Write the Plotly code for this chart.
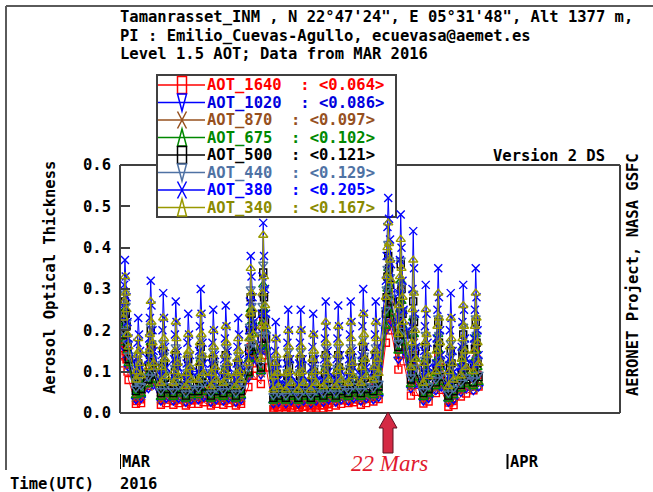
import datetime as dt
import plotly.graph_objects as go

# ---------------- data ----------------
days = list(range(1, 30))                          # March 2016, days with data
hours = [6.5, 8.0, 9.5, 11.0, 12.5, 14.5, 16.5]    # observation hours (UTC) per day

aot_1640 = [
    .12, .14, .17, .15, .13, .10, .08,
    .022, .029, .037, .05, .042, .033, .024,
    .065, .09, .115, .16, .13, .10, .075,
    .02, .031, .044, .064, .051, .035, .024,
    .02, .029, .042, .059, .048, .033, .024,
    .018, .026, .037, .053, .042, .031, .022,
    .022, .033, .046, .066, .053, .037, .026,
    .018, .026, .037, .055, .044, .031, .022,
    .02, .029, .04, .057, .046, .033, .024,
    .018, .026, .035, .051, .042, .029, .022,
    .063, .09, .12, .16, .14, .12, .09,
    .07, .11, .155, .22, .18, .14, .11,
    .008, .013, .018, .026, .022, .014, .01,
    .008, .014, .02, .03, .024, .016, .011,
    .006, .013, .02, .03, .024, .015, .009,
    .008, .013, .019, .029, .023, .016, .011,
    .011, .018, .025, .038, .029, .021, .014,
    .018, .029, .04, .057, .046, .031, .022,
    .024, .029, .042, .059, .048, .033, .026,
    .02, .031, .046, .066, .053, .035, .024,
    .028, .039, .053, .076, .062, .045, .034,
    .17, .21, .25, .29, .26, .23, .20,
    .105, .14, .18, .24, .20, .16, .125,
    .042, .067, .096, .14, .11, .077, .051,
    .023, .038, .053, .078, .06, .043, .028,
    .048, .072, .10, .14, .11, .08, .056,
    .015, .025, .038, .055, .044, .029, .019,
    .04, .058, .079, .11, .09, .065, .047,
    .055, .083, .115, .16, .13, .092, .064,
]

aot_1020 = [
    .16, .19, .23, .20, .17, .13, .11,
    .032, .042, .054, .074, .061, .048, .035,
    .059, .081, .10, .14, .12, .09, .068,
    .029, .045, .064, .093, .074, .051, .035,
    .029, .042, .061, .086, .07, .048, .035,
    .026, .038, .054, .077, .061, .045, .032,
    .032, .048, .067, .096, .077, .054, .038,
    .026, .038, .054, .08, .064, .045, .032,
    .029, .042, .058, .083, .067, .048, .035,
    .026, .038, .051, .074, .061, .042, .032,
    .085, .12, .16, .23, .20, .17, .13,
    .092, .15, .20, .28, .23, .18, .15,
    .022, .035, .048, .07, .058, .038, .026,
    .022, .038, .054, .08, .064, .042, .029,
    .022, .038, .054, .08, .064, .042, .029,
    .022, .035, .051, .077, .061, .042, .029,
    .026, .042, .058, .086, .067, .048, .032,
    .026, .042, .058, .083, .067, .045, .032,
    .029, .042, .061, .086, .07, .048, .035,
    .029, .045, .067, .096, .077, .051, .035,
    .032, .045, .061, .086, .07, .051, .038,
    .20, .23, .27, .32, .29, .26, .22,
    .13, .18, .23, .29, .24, .20, .15,
    .059, .095, .135, .20, .16, .11, .072,
    .029, .048, .067, .099, .077, .054, .035,
    .054, .081, .11, .16, .13, .09, .063,
    .026, .042, .064, .093, .074, .048, .032,
    .05, .072, .099, .14, .11, .081, .059,
    .054, .081, .11, .16, .13, .09, .063,
]

aot_870 = [
    .17, .20, .24, .21, .18, .14, .115,
    .037, .048, .063, .085, .07, .056, .041,
    .064, .088, .11, .16, .13, .098, .074,
    .033, .052, .074, .11, .085, .059, .041,
    .033, .048, .07, .10, .081, .056, .041,
    .03, .044, .063, .089, .07, .052, .037,
    .037, .056, .078, .11, .089, .063, .044,
    .03, .044, .063, .093, .074, .052, .037,
    .033, .048, .067, .096, .078, .056, .041,
    .03, .044, .059, .085, .07, .048, .037,
    .09, .13, .17, .24, .21, .18, .14,
    .096, .15, .21, .29, .24, .19, .15,
    .026, .041, .056, .081, .067, .044, .03,
    .026, .044, .063, .093, .074, .048, .033,
    .026, .044, .063, .093, .074, .048, .033,
    .026, .041, .059, .089, .07, .048, .033,
    .03, .048, .067, .10, .078, .056, .037,
    .03, .048, .067, .096, .078, .052, .037,
    .033, .048, .07, .10, .081, .056, .041,
    .033, .052, .078, .11, .089, .059, .041,
    .037, .052, .07, .10, .081, .059, .044,
    .20, .24, .29, .33, .30, .27, .23,
    .14, .19, .24, .31, .26, .20, .16,
    .064, .10, .15, .22, .17, .12, .078,
    .033, .056, .078, .115, .089, .063, .041,
    .059, .088, .12, .17, .14, .098, .069,
    .03, .048, .074, .11, .085, .056, .037,
    .054, .078, .11, .15, .12, .088, .064,
    .059, .088, .12, .17, .14, .098, .069,
]

aot_675 = [
    .17, .21, .25, .22, .19, .15, .12,
    .042, .055, .071, .097, .08, .063, .046,
    .069, .095, .12, .17, .14, .11, .08,
    .038, .059, .084, .12, .097, .067, .046,
    .038, .055, .08, .11, .092, .063, .046,
    .034, .05, .071, .10, .08, .059, .042,
    .042, .063, .088, .13, .10, .071, .05,
    .034, .05, .071, .105, .084, .059, .042,
    .038, .055, .076, .11, .088, .063, .046,
    .034, .05, .067, .097, .08, .055, .042,
    .094, .13, .18, .25, .22, .19, .15,
    .10, .16, .22, .31, .25, .20, .16,
    .029, .046, .063, .092, .076, .05, .034,
    .029, .05, .071, .105, .084, .055, .038,
    .029, .05, .071, .105, .084, .055, .038,
    .029, .046, .067, .10, .08, .055, .038,
    .034, .055, .076, .11, .088, .063, .042,
    .034, .055, .076, .11, .088, .059, .042,
    .038, .055, .08, .11, .092, .063, .046,
    .038, .059, .088, .13, .10, .067, .046,
    .042, .059, .08, .11, .092, .067, .05,
    .21, .25, .30, .35, .31, .28, .24,
    .15, .19, .25, .32, .27, .21, .17,
    .069, .11, .16, .23, .19, .13, .085,
    .038, .063, .088, .13, .10, .071, .046,
    .064, .095, .13, .19, .15, .11, .074,
    .034, .055, .084, .12, .097, .063, .042,
    .058, .085, .12, .16, .13, .095, .069,
    .064, .095, .13, .19, .15, .11, .074,
]

aot_500 = [
    .19, .23, .27, .24, .21, .16, .13,
    .053, .069, .09, .12, .10, .08, .058,
    .081, .11, .14, .20, .16, .12, .093,
    .048, .074, .11, .15, .12, .085, .058,
    .048, .069, .10, .14, .12, .08, .058,
    .042, .064, .09, .13, .10, .074, .053,
    .053, .08, .11, .16, .13, .09, .064,
    .042, .064, .09, .13, .11, .074, .053,
    .048, .069, .095, .14, .11, .08, .058,
    .042, .064, .085, .12, .10, .069, .053,
    .10, .15, .20, .28, .24, .21, .16,
    .11, .18, .24, .34, .28, .22, .18,
    .037, .058, .08, .12, .095, .064, .042,
    .037, .064, .09, .13, .11, .069, .048,
    .037, .064, .09, .13, .11, .069, .048,
    .037, .058, .085, .13, .10, .069, .048,
    .042, .069, .095, .14, .11, .08, .053,
    .042, .069, .095, .14, .11, .074, .053,
    .048, .069, .10, .14, .12, .08, .058,
    .048, .074, .11, .16, .13, .085, .058,
    .053, .074, .10, .14, .12, .085, .064,
    .24, .28, .33, .38, .35, .31, .27,
    .16, .21, .27, .36, .30, .24, .19,
    .081, .13, .19, .27, .22, .15, .099,
    .048, .08, .11, .16, .13, .09, .058,
    .074, .11, .155, .22, .17, .12, .087,
    .042, .069, .11, .15, .12, .08, .053,
    .068, .099, .14, .19, .155, .11, .081,
    .074, .11, .155, .22, .17, .12, .087,
]

aot_440 = [
    .20, .24, .29, .26, .22, .17, .14,
    .06, .078, .10, .14, .11, .09, .066,
    .087, .12, .15, .21, .17, .13, .10,
    .054, .084, .12, .17, .14, .096, .066,
    .054, .078, .11, .16, .13, .09, .066,
    .048, .072, .10, .14, .11, .084, .06,
    .06, .09, .13, .18, .14, .10, .072,
    .048, .072, .10, .15, .12, .084, .06,
    .054, .078, .11, .16, .13, .09, .066,
    .048, .072, .096, .14, .11, .078, .06,
    .11, .16, .21, .30, .26, .22, .17,
    .12, .19, .26, .36, .30, .23, .19,
    .042, .066, .09, .13, .11, .072, .048,
    .042, .072, .10, .15, .12, .078, .054,
    .042, .072, .10, .15, .12, .078, .054,
    .042, .066, .096, .14, .11, .078, .054,
    .048, .078, .11, .16, .13, .09, .06,
    .048, .078, .11, .16, .13, .084, .06,
    .054, .078, .11, .16, .13, .09, .066,
    .054, .084, .13, .18, .14, .096, .066,
    .06, .084, .11, .16, .13, .096, .072,
    .25, .30, .35, .41, .37, .33, .28,
    .17, .23, .29, .37, .31, .25, .20,
    .087, .14, .20, .29, .23, .16, .11,
    .054, .09, .13, .19, .14, .10, .066,
    .08, .12, .17, .23, .19, .13, .094,
    .048, .078, .12, .17, .14, .09, .06,
    .074, .11, .15, .21, .17, .12, .087,
    .08, .12, .17, .23, .19, .13, .094,
]

aot_380 = [
    .26, .31, .37, .33, .28, .22, .18,
    .10, .13, .17, .23, .19, .15, .11,
    .13, .18, .23, .32, .26, .20, .15,
    .09, .14, .20, .29, .23, .16, .11,
    .09, .13, .19, .27, .22, .15, .11,
    .08, .12, .17, .24, .19, .14, .10,
    .10, .15, .21, .30, .24, .17, .12,
    .08, .12, .17, .25, .20, .14, .10,
    .09, .13, .18, .26, .21, .15, .11,
    .08, .12, .16, .23, .19, .13, .10,
    .14, .20, .27, .38, .33, .28, .22,
    .15, .24, .33, .46, .38, .30, .24,
    .07, .11, .15, .22, .18, .12, .08,
    .07, .12, .17, .25, .20, .13, .09,
    .07, .12, .17, .25, .20, .13, .09,
    .07, .11, .16, .24, .19, .13, .09,
    .08, .13, .18, .27, .21, .15, .10,
    .08, .13, .18, .26, .21, .14, .10,
    .09, .13, .19, .27, .22, .15, .11,
    .09, .14, .21, .30, .24, .16, .11,
    .10, .14, .19, .27, .22, .16, .12,
    .32, .38, .45, .52, .47, .42, .36,
    .22, .29, .37, .48, .40, .32, .25,
    .13, .21, .30, .44, .35, .24, .16,
    .09, .15, .21, .31, .24, .17, .11,
    .12, .18, .25, .35, .28, .20, .14,
    .08, .13, .20, .29, .23, .15, .10,
    .11, .16, .22, .31, .25, .18, .13,
    .12, .18, .25, .35, .28, .20, .14,
]

aot_340 = [
    .23, .27, .33, .29, .25, .19, .16,
    .08, .10, .14, .18, .15, .12, .09,
    .11, .15, .19, .27, .22, .17, .12,
    .072, .11, .16, .23, .18, .13, .088,
    .072, .10, .15, .22, .18, .12, .088,
    .064, .096, .14, .19, .15, .11, .08,
    .08, .12, .17, .24, .19, .14, .096,
    .064, .096, .14, .20, .16, .11, .08,
    .072, .10, .14, .21, .17, .12, .088,
    .064, .096, .13, .18, .15, .10, .08,
    .12, .18, .24, .35, .29, .25, .19,
    .13, .21, .29, .43, .33, .26, .21,
    .056, .088, .12, .18, .14, .096, .064,
    .056, .096, .14, .20, .16, .10, .072,
    .056, .096, .14, .20, .16, .10, .072,
    .056, .088, .13, .19, .15, .10, .072,
    .064, .10, .14, .22, .17, .12, .08,
    .064, .10, .14, .21, .17, .11, .08,
    .072, .10, .15, .22, .18, .12, .088,
    .072, .11, .17, .24, .19, .13, .088,
    .08, .11, .15, .22, .18, .13, .096,
    .28, .33, .40, .46, .41, .37, .32,
    .19, .26, .33, .42, .35, .28, .22,
    .11, .17, .25, .37, .29, .20, .13,
    .072, .12, .17, .25, .19, .14, .088,
    .10, .15, .21, .29, .23, .17, .12,
    .064, .10, .16, .23, .18, .12, .08,
    .09, .13, .18, .26, .21, .15, .11,
    .10, .15, .21, .29, .23, .17, .12,
]

series_names = ["AOT_1640", "AOT_1020", "AOT_870", "AOT_675",
                "AOT_500", "AOT_440", "AOT_380", "AOT_340"]
series_means = ["0.064", "0.086", "0.097", "0.102",
                "0.121", "0.129", "0.205", "0.167"]
series_values = [aot_1640, aot_1020, aot_870, aot_675,
                 aot_500, aot_440, aot_380, aot_340]

month_ticks = ["2016-03-01", "2016-04-01"]
month_labels = ["MAR", "APR"]

# ---------------- style ----------------
colors = ["#ff0000", "#0000ff", "#96501e", "#008800",
          "#000000", "#4f72a4", "#0000ff", "#999900"]
text_colors = ["#ff0000", "#0000dd", "#96501e", "#008800",
               "#000000", "#4f72a4", "#0000ff", "#8a8a00"]
symbols = ["square-open", "triangle-down-open", "x-thin-open", "triangle-up-open",
           "square-open", "triangle-down-open", "x-thin-open", "triangle-up-open"]
glyphs = ["square", "tri-down", "x", "tri-up", "square", "tri-down", "x", "tri-up"]
msizes = [7, 8, 8, 8, 7, 8, 8, 8]

MONO = "DejaVu Sans Mono"
FS = 15.5
W, H = 653, 492
L, R, T, B = 120, 620, 165, 413  # plot area in pixels


def px2x(px):
    return (px - L) / (R - L)


def px2y(py):
    return (B - py) / (B - T)


times = [dt.datetime(2016, 3, d) + dt.timedelta(hours=h) for d in days for h in hours]

fig = go.Figure()
for name, vals, c, s, ms in zip(series_names, series_values, colors, symbols, msizes):
    fig.add_trace(go.Scatter(
        x=times, y=vals, mode="lines+markers", name=name,
        line=dict(color=c, width=1),
        marker=dict(symbol=s, size=ms, color=c, line=dict(width=1.4, color=c)),
        showlegend=False,
    ))

shapes = []
annotations = []
FRAME = "#404040"

# plot frame (top edge interrupted by legend box)
shapes += [
    dict(type="line", xref="paper", yref="paper", x0=0, x1=0, y0=0, y1=1,
         line=dict(color=FRAME, width=2), layer="above"),
    dict(type="line", xref="paper", yref="paper", x0=0, x1=1, y0=0, y1=0,
         line=dict(color=FRAME, width=2), layer="above"),
    dict(type="line", xref="paper", yref="paper", x0=1, x1=1, y0=0, y1=1,
         line=dict(color=FRAME, width=2), layer="above"),
    dict(type="line", xref="paper", yref="paper", x0=0, x1=px2x(157), y0=1, y1=1,
         line=dict(color=FRAME, width=2), layer="above"),
    dict(type="line", xref="paper", yref="paper", x0=px2x(396), x1=1, y0=1, y1=1,
         line=dict(color=FRAME, width=2), layer="above"),
]
# outer picture frame
shapes += [
    dict(type="line", xref="paper", yref="paper", x0=px2x(6), x1=px2x(W), y0=px2y(6), y1=px2y(6),
         line=dict(color="#5a5a5a", width=2)),
    dict(type="line", xref="paper", yref="paper", x0=px2x(6), x1=px2x(6), y0=px2y(6), y1=px2y(470),
         line=dict(color="#5a5a5a", width=2)),
]

# legend box
shapes.append(dict(type="rect", xref="paper", yref="paper",
                   x0=px2x(157), x1=px2x(396), y0=px2y(75), y1=px2y(217),
                   line=dict(color=FRAME, width=2), fillcolor="white", layer="below"))
for i, (name, mean, c, tc, g) in enumerate(zip(series_names, series_means, colors, text_colors, glyphs)):
    cy = 85 + 17.5 * i
    shapes.append(dict(type="line", xref="paper", yref="paper",
                       x0=px2x(158), x1=px2x(205), y0=px2y(cy), y1=px2y(cy),
                       line=dict(color=c, width=1.5)))
    xl, xc, xr = px2x(177.5), px2x(182), px2x(186.5)
    yt, yb = px2y(cy - 8.5), px2y(cy + 8.5)
    if g == "square":
        shapes.append(dict(type="rect", xref="paper", yref="paper", x0=xl, x1=xr, y0=yb, y1=yt,
                           line=dict(color=c, width=1.5)))
    else:
        if g == "tri-down":
            p = f"M{xl},{yt} L{xr},{yt} L{xc},{yb} Z"
        elif g == "tri-up":
            p = f"M{xl},{yb} L{xr},{yb} L{xc},{yt} Z"
        else:
            p = f"M{xl},{yt} L{xr},{yb} M{xr},{yt} L{xl},{yb}"
        shapes.append(dict(type="path", xref="paper", yref="paper", path=p,
                           line=dict(color=c, width=1.5)))
    label = name + "\u00a0\u00a0:\u00a0&lt;" + mean + "&gt;"
    annotations.append(dict(xref="paper", yref="paper", x=px2x(205), y=px2y(cy),
                            xanchor="left", yanchor="middle", text=label, showarrow=False,
                            font=dict(family=MONO, size=FS, color=tc, weight="bold")))

# header lines
header = ["Tamanrasset_INM , N 22°47'24\", E 05°31'48\", Alt 1377 m,",
          "PI : Emilio_Cuevas-Agullo, ecuevasa@aemet.es",
          "Level 1.5 AOT; Data from MAR 2016"]
for j, line in enumerate(header):
    annotations.append(dict(xref="paper", yref="paper", x=px2x(118), y=px2y(17 + 18.5 * j),
                            xanchor="left", yanchor="middle", text=line, showarrow=False,
                            font=dict(family=MONO, size=FS, color="black", weight="bold")))

txtfont = dict(family=MONO, size=FS, color="black", weight="bold")
annotations += [
    dict(xref="paper", yref="paper", x=px2x(607), y=px2y(156), xanchor="right", yanchor="middle",
         text="Version 2 DS", showarrow=False, font=txtfont),
    dict(xref="paper", yref="paper", x=px2x(50), y=px2y(278), xanchor="center", yanchor="middle",
         text="Aerosol Optical Thickness", textangle=-90, showarrow=False, font=txtfont),
    dict(xref="paper", yref="paper", x=px2x(633), y=px2y(275), xanchor="center", yanchor="middle",
         text="AERONET Project, NASA GSFC", textangle=-90, showarrow=False, font=txtfont),
    dict(xref="paper", yref="paper", x=px2x(8), y=px2y(484), xanchor="left", yanchor="middle",
         text="Time(UTC)", showarrow=False, font=txtfont),
    dict(xref="paper", yref="paper", x=px2x(118), y=px2y(484), xanchor="left", yanchor="middle",
         text="2016", showarrow=False, font=txtfont),
    dict(xref="paper", yref="paper", x=px2x(389), y=px2y(463), xanchor="center", yanchor="middle",
         text="<i>22 Mars</i>", showarrow=False,
         font=dict(family="Liberation Serif", size=23, color="#e0192e")),
]
for tv, tl in zip(month_ticks, month_labels):
    annotations.append(dict(xref="x", yref="paper", x=tv, y=px2y(462), xanchor="left", yanchor="middle",
                            xshift=0, text=tl, showarrow=False, font=txtfont))
    shapes.append(dict(type="line", xref="x", yref="paper", x0=tv, x1=tv,
                       y0=px2y(454), y1=px2y(469), line=dict(color="black", width=2)))

# red arrow pointing at 22 March
ax = 388
pts = [(ax, 412), (ax + 9, 428), (ax + 5, 428), (ax + 5, 453), (ax - 5, 453), (ax - 5, 428), (ax - 9, 428)]
apath = "M" + " L".join(f"{px2x(a)},{px2y(b)}" for a, b in pts) + " Z"
shapes.append(dict(type="path", xref="paper", yref="paper", path=apath,
                   fillcolor="#d42a44", line=dict(color="#5a1020", width=1)))

fig.update_layout(
    width=W, height=H,
    margin=dict(l=L, r=W - R, t=T, b=H - B),
    paper_bgcolor="white", plot_bgcolor="rgba(0,0,0,0)",
    showlegend=False,
    shapes=shapes, annotations=annotations,
    xaxis=dict(type="date", range=["2016-03-01", "2016-04-10"], showticklabels=False,
               ticks="", showgrid=False, zeroline=False, showline=False),
    yaxis=dict(range=[0, 0.6], dtick=0.1, tick0=0, tickformat=".1f", ticks="inside", ticklen=10,
               tickwidth=2, tickcolor=FRAME, showgrid=False, zeroline=False, showline=False,
               ticklabelstandoff=8, tickfont=txtfont),
)

fig.write_html("out.html",
               config={"displayModeBar": False},
               post_script="document.body.style.margin='0';document.body.style.overflow='hidden';")
